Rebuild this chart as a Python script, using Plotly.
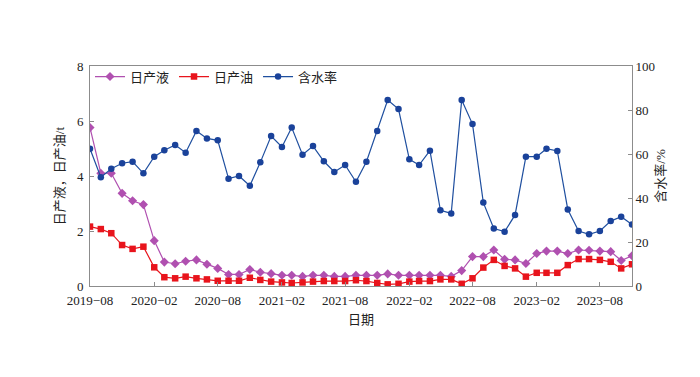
import plotly.graph_objects as go
import pandas as pd

months = pd.date_range("2019-08-01", periods=52, freq="MS")

liquid = [5.76, 4.10, 4.10, 3.37, 3.10, 2.96, 1.65, 0.87, 0.81, 0.90,
          0.95, 0.79, 0.64, 0.42, 0.42, 0.60, 0.50, 0.45, 0.39, 0.39,
          0.35, 0.39, 0.39, 0.35, 0.35, 0.39, 0.39, 0.39, 0.44, 0.39,
          0.39, 0.39, 0.39, 0.39, 0.35, 0.56, 1.07, 1.07, 1.31, 0.97,
          0.95, 0.82, 1.18, 1.27, 1.27, 1.18, 1.31, 1.30, 1.27, 1.25, 0.93, 1.10]

oil = [2.16, 2.07, 1.92, 1.49, 1.35, 1.43, 0.68, 0.32, 0.28, 0.34,
       0.28, 0.24, 0.19, 0.19, 0.19, 0.30, 0.22, 0.16, 0.13, 0.11,
       0.13, 0.16, 0.18, 0.18, 0.18, 0.21, 0.18, 0.11, 0.06, 0.08,
       0.16, 0.18, 0.18, 0.24, 0.24, 0.08, 0.28, 0.67, 0.95, 0.73,
       0.64, 0.34, 0.48, 0.48, 0.48, 0.76, 0.98, 0.98, 0.95, 0.88, 0.64, 0.79]

water_cut = [62.4, 49.4, 53.3, 55.8, 56.5, 51.2, 58.8, 61.7, 64.1, 60.6,
             70.5, 67.1, 66.2, 48.8, 50.0, 45.6, 56.2, 68.2, 63.2, 72.0,
             59.7, 63.6, 56.7, 51.8, 55.0, 47.4, 56.5, 70.5, 84.5, 80.4,
             57.6, 55.0, 61.5, 34.4, 33.0, 84.5, 73.6, 37.9, 26.1, 24.7,
             32.3, 58.8, 58.8, 62.4, 61.4, 34.8, 25.0, 23.5, 25.0, 29.5, 31.5, 28.0]

left_ticks = [0, 2, 4, 6, 8]
right_ticks = [0, 20, 40, 60, 80, 100]

FONT = "Liberation Serif, Times New Roman, Noto Sans CJK SC, serif"
AXC = "#8c8c8c"

fig = go.Figure()
fig.add_trace(go.Scatter(x=months, y=liquid, name="日产液", mode="lines+markers",
                         line=dict(color="#b050b0", width=1.2),
                         marker=dict(symbol="diamond", size=7, color="#b050b0")))
fig.add_trace(go.Scatter(x=months, y=oil, name="日产油", mode="lines+markers",
                         line=dict(color="#e8141c", width=1.2),
                         marker=dict(symbol="square", size=6.5, color="#e8141c")))
fig.add_trace(go.Scatter(x=months, y=water_cut, name="含水率", mode="lines+markers",
                         yaxis="y2",
                         line=dict(color="#1f4f9f", width=1.2),
                         marker=dict(symbol="circle", size=6.5, color="#1a429a")))

fig.update_layout(
    width=684, height=361,
    margin=dict(l=82, r=60, t=58, b=83, autoexpand=False),
    paper_bgcolor="white", plot_bgcolor="white",
    font=dict(family=FONT, size=13, color="#222"),
    showlegend=True,
    legend=dict(orientation="h", x=0.0, y=1.02, xanchor="left", yanchor="top",
                bgcolor="rgba(0,0,0,0)", font=dict(size=13), itemwidth=30,
                tracegroupgap=0),
    xaxis=dict(
        range=[months[0], months[-1]],
        tickmode="array",
        tickvals=months[::6],
        tickformat="%Y−%m",
        ticks="inside", ticklen=4, tickcolor=AXC, automargin=False,
        ticklabelstandoff=2,
        showline=True, linecolor=AXC, mirror=True, showgrid=False, zeroline=False,
        title=dict(text="日期", font=dict(size=13), standoff=8),
    ),
    yaxis=dict(
        range=[0, 8], tickvals=left_ticks, automargin=False,
        ticks="inside", ticklen=4, tickcolor=AXC, ticklabelstandoff=3,
        showline=True, linecolor=AXC, showgrid=False, zeroline=False,
        title=dict(text="日产液，日产油/t", font=dict(size=13), standoff=9),
    ),
    yaxis2=dict(
        range=[0, 100], tickvals=right_ticks, overlaying="y", side="right",
        ticks="inside", ticklen=4, tickcolor=AXC, automargin=False,
        showline=True, linecolor=AXC, showgrid=False, zeroline=False,
        title=dict(text="含水率/%", font=dict(size=13), standoff=1),
    ),
)

fig.write_html("out.html")
